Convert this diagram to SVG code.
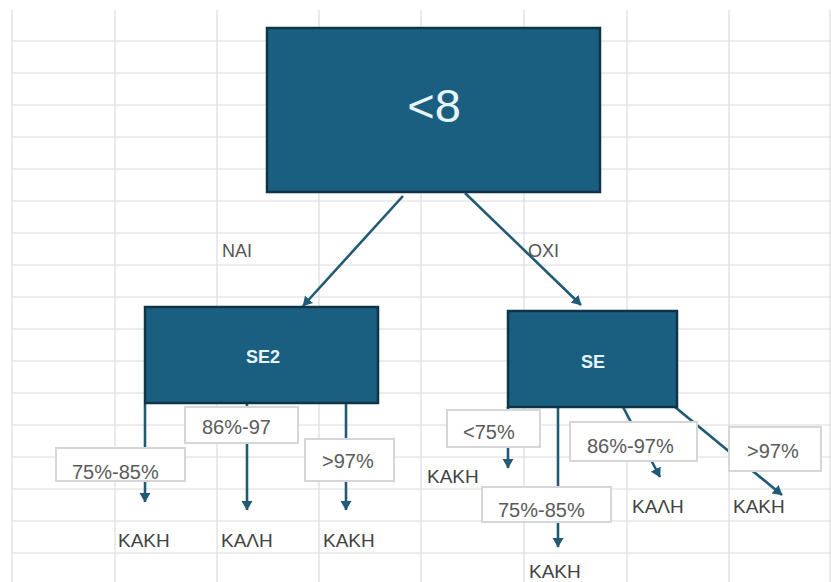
<svg xmlns="http://www.w3.org/2000/svg" width="831" height="582" viewBox="0 0 831 582">
<defs>
<style>
.grid{stroke:#dcdcdc;stroke-width:1.2;fill:none}
.node{fill:#1b5f80;stroke:#0f3447;stroke-width:2.5}
.ntext{fill:#e6f5fb;font-family:"Liberation Sans",Arial,sans-serif}
.conn{stroke:#215a75;stroke-width:2.6;fill:none;marker-end:url(#ah)}
.lbox{fill:#ffffff;stroke:#d6d6d6;stroke-width:2}
.ltext{fill:#5a5a5a;font-family:"Liberation Sans",Arial,sans-serif;font-size:20px}
.otext{fill:#424242;font-family:"Liberation Sans",Arial,sans-serif;font-size:19px}
.etext{fill:#555555;font-family:"Liberation Sans",Arial,sans-serif;font-size:18px}
</style>
<marker id="ah" markerUnits="userSpaceOnUse" markerWidth="11" markerHeight="12" refX="9" refY="6" orient="auto">
<path d="M0,0.5 L9.5,6 L0,11.5 z" fill="#215a75"/>
</marker>
</defs>
<rect width="831" height="582" fill="#ffffff"/>
<g id="grid">
<path class="grid" d="M12,10V582M115,10V582M217,10V582M319,10V582M421,10V582M524,10V582M627,10V582M729,10V582M830,10V582
M12,41H831M12,73H831M12,105H831M12,137H831M12,169H831M12,201H831M12,233H831M12,265H831M12,297H831M12,329H831M12,361H831M12,393H831M12,425H831M12,457H831M12,489H831M12,521H831M12,553H831"/>
</g>
<g id="connectors">
<line class="conn" x1="403" y1="196" x2="303" y2="306"/>
<line class="conn" x1="465" y1="193" x2="581" y2="305"/>
<line class="conn" x1="145" y1="404" x2="145" y2="502"/>
<line class="conn" x1="247" y1="404" x2="247" y2="510"/>
<line class="conn" x1="346" y1="404" x2="346" y2="510"/>
<line class="conn" x1="508" y1="407" x2="508" y2="468"/>
<line class="conn" x1="558" y1="407" x2="558" y2="547"/>
<line class="conn" x1="623" y1="407" x2="660" y2="477"/>
<line class="conn" x1="675" y1="407" x2="782" y2="495"/>
</g>
<g id="edge-labels">
<text class="etext" x="222" y="257">ΝΑΙ</text>
<text class="etext" x="528" y="257">ΟΧΙ</text>
<g id="lbl-se2-1"><rect class="lbox" x="56" y="448" width="129" height="33"/><text class="ltext" x="72" y="479">75%-85%</text></g>
<g id="lbl-se2-2"><rect class="lbox" x="185" y="407" width="113" height="36"/><text class="ltext" x="202" y="434">86%-97</text></g>
<g id="lbl-se2-3"><rect class="lbox" x="305" y="439" width="89" height="42"/><text class="ltext" x="322" y="468">&gt;97%</text></g>
<g id="lbl-se-1"><rect class="lbox" x="447" y="410" width="93" height="37"/><text class="ltext" x="463" y="439">&lt;75%</text></g>
<g id="lbl-se-2"><rect class="lbox" x="482" y="487" width="129" height="35"/><text class="ltext" x="498" y="517">75%-85%</text></g>
<g id="lbl-se-3"><rect class="lbox" x="570" y="422" width="127" height="39"/><text class="ltext" x="587" y="453">86%-97%</text></g>
<g id="lbl-se-4"><rect class="lbox" x="729" y="427" width="92" height="44"/><text class="ltext" x="747" y="458">&gt;97%</text></g>
</g>
<g id="node-root">
<rect class="node" x="267" y="28" width="333" height="164"/>
<text class="ntext" x="434" y="122" font-size="47" text-anchor="middle">&lt;8</text>
</g>
<g id="node-se2">
<rect class="node" x="145" y="307" width="233" height="96"/>
<text class="ntext" x="263" y="363" font-size="18" font-weight="bold" text-anchor="middle">SE2</text>
</g>
<g id="node-se">
<rect class="node" x="508" y="311" width="169" height="96"/>
<text class="ntext" x="593" y="368" font-size="18" font-weight="bold" text-anchor="middle">SE</text>
</g>
<g id="out-1"><text class="otext" x="118" y="547">ΚΑΚΗ</text></g>
<g id="out-2"><text class="otext" x="221" y="547">ΚΑΛΗ</text></g>
<g id="out-3"><text class="otext" x="323" y="547">ΚΑΚΗ</text></g>
<g id="out-4"><text class="otext" x="427" y="483">ΚΑΚΗ</text></g>
<g id="out-5"><text class="otext" x="529" y="578">ΚΑΚΗ</text></g>
<g id="out-6"><text class="otext" x="632" y="513">ΚΑΛΗ</text></g>
<g id="out-7"><text class="otext" x="733" y="513">ΚΑΚΗ</text></g>
</svg>
